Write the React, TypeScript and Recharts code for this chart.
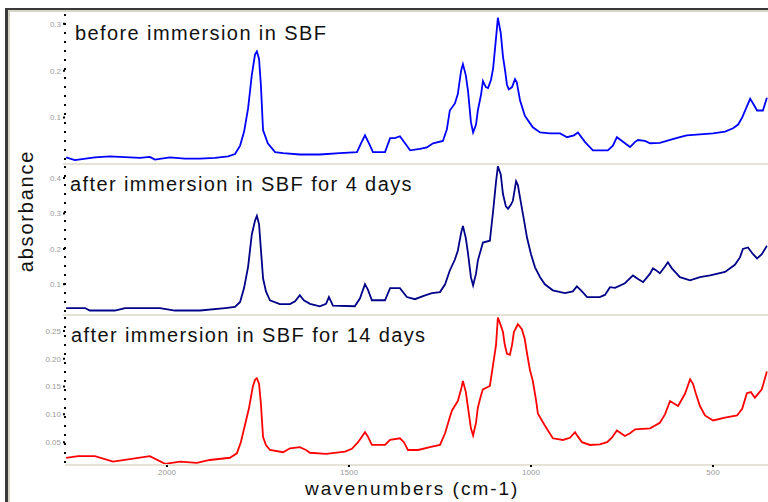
import React from 'react';
import { Line, LineChart, XAxis, YAxis } from 'recharts';

// wavenumbers (cm-1) and absorbance
const wnBefore = [2277, 2253, 2198, 2157, 2074, 2047, 2033, 1992, 1951, 1909, 1868, 1832, 1813, 1799, 1788, 1777, 1767, 1758, 1753, 1747, 1742, 1736, 1723, 1703, 1681, 1635, 1580, 1525, 1478, 1467, 1456, 1445, 1434, 1401, 1387, 1374, 1360, 1346, 1332, 1305, 1286, 1269, 1242, 1231, 1223, 1209, 1201, 1192, 1187, 1179, 1173, 1165, 1159, 1151, 1146, 1137, 1132, 1124, 1118, 1110, 1104, 1096, 1091, 1083, 1077, 1072, 1066, 1061, 1052, 1044, 1039, 1030, 1017, 1003, 995, 975, 948, 920, 901, 882, 871, 852, 830, 789, 775, 764, 750, 728, 714, 706, 687, 673, 646, 618, 591, 572, 536, 500, 467, 445, 431, 420, 409, 398, 390, 379, 363, 352];
const before = [0.015, 0.009, 0.015, 0.017, 0.014, 0.016, 0.01, 0.015, 0.012, 0.012, 0.014, 0.017, 0.022, 0.04, 0.07, 0.12, 0.19, 0.235, 0.241, 0.225, 0.17, 0.073, 0.045, 0.026, 0.024, 0.021, 0.021, 0.024, 0.026, 0.045, 0.062, 0.045, 0.026, 0.026, 0.056, 0.056, 0.06, 0.045, 0.03, 0.033, 0.036, 0.045, 0.05, 0.075, 0.115, 0.13, 0.15, 0.2, 0.214, 0.19, 0.157, 0.09, 0.068, 0.085, 0.115, 0.15, 0.178, 0.165, 0.163, 0.18, 0.205, 0.27, 0.313, 0.28, 0.23, 0.205, 0.17, 0.16, 0.165, 0.182, 0.175, 0.136, 0.104, 0.088, 0.079, 0.068, 0.066, 0.066, 0.058, 0.062, 0.068, 0.048, 0.03, 0.03, 0.04, 0.058, 0.05, 0.037, 0.048, 0.052, 0.05, 0.045, 0.046, 0.052, 0.058, 0.062, 0.064, 0.066, 0.07, 0.077, 0.085, 0.1, 0.12, 0.14, 0.13, 0.115, 0.115, 0.142];

const wnDay4 = [2277, 2225, 2212, 2143, 2115, 2019, 1978, 1951, 1909, 1840, 1813, 1799, 1788, 1777, 1767, 1758, 1753, 1747, 1742, 1736, 1728, 1717, 1690, 1662, 1648, 1635, 1624, 1607, 1580, 1563, 1555, 1544, 1484, 1470, 1456, 1448, 1437, 1401, 1387, 1360, 1341, 1319, 1291, 1272, 1250, 1236, 1223, 1209, 1201, 1192, 1187, 1179, 1173, 1165, 1159, 1151, 1146, 1137, 1132, 1113, 1104, 1096, 1091, 1083, 1077, 1069, 1063, 1055, 1050, 1041, 1036, 1030, 1019, 1011, 1000, 989, 975, 962, 940, 907, 885, 874, 860, 846, 811, 797, 783, 769, 742, 720, 706, 692, 673, 665, 657, 646, 632, 624, 613, 591, 563, 536, 508, 467, 440, 426, 418, 404, 390, 379, 366, 352];
const day4 = [0.033, 0.033, 0.026, 0.026, 0.033, 0.033, 0.026, 0.026, 0.026, 0.033, 0.036, 0.05, 0.09, 0.15, 0.24, 0.28, 0.293, 0.27, 0.2, 0.117, 0.08, 0.055, 0.044, 0.044, 0.052, 0.069, 0.055, 0.045, 0.038, 0.045, 0.064, 0.04, 0.038, 0.06, 0.1, 0.085, 0.055, 0.055, 0.089, 0.089, 0.064, 0.058, 0.069, 0.075, 0.078, 0.1, 0.139, 0.17, 0.195, 0.245, 0.265, 0.23, 0.187, 0.12, 0.097, 0.13, 0.167, 0.2, 0.218, 0.223, 0.307, 0.39, 0.433, 0.41, 0.355, 0.32, 0.313, 0.325, 0.335, 0.391, 0.38, 0.344, 0.28, 0.232, 0.185, 0.148, 0.12, 0.1, 0.083, 0.075, 0.08, 0.094, 0.08, 0.064, 0.064, 0.07, 0.092, 0.09, 0.103, 0.125, 0.115, 0.106, 0.13, 0.145, 0.14, 0.131, 0.15, 0.162, 0.145, 0.12, 0.111, 0.12, 0.125, 0.135, 0.155, 0.176, 0.2, 0.204, 0.185, 0.173, 0.185, 0.209];

const wnDay14 = [2277, 2244, 2198, 2148, 2047, 2005, 1964, 1918, 1882, 1827, 1808, 1797, 1786, 1775, 1764, 1758, 1753, 1747, 1742, 1736, 1728, 1717, 1681, 1662, 1635, 1618, 1607, 1563, 1511, 1492, 1475, 1456, 1448, 1437, 1401, 1387, 1360, 1349, 1338, 1310, 1278, 1250, 1236, 1223, 1217, 1201, 1192, 1187, 1179, 1173, 1165, 1159, 1151, 1146, 1137, 1132, 1113, 1104, 1096, 1091, 1083, 1077, 1072, 1066, 1058, 1052, 1047, 1036, 1025, 1017, 1011, 1003, 995, 986, 981, 962, 940, 912, 893, 879, 871, 860, 838, 811, 791, 778, 764, 742, 728, 714, 673, 646, 632, 618, 604, 596, 577, 563, 555, 547, 536, 522, 500, 467, 434, 420, 407, 396, 385, 366, 352];
const day14 = [0.022, 0.025, 0.025, 0.015, 0.025, 0.011, 0.015, 0.013, 0.018, 0.022, 0.03, 0.05, 0.08, 0.11, 0.15, 0.162, 0.165, 0.155, 0.12, 0.059, 0.045, 0.036, 0.032, 0.039, 0.041, 0.036, 0.031, 0.029, 0.033, 0.038, 0.05, 0.068, 0.06, 0.045, 0.045, 0.054, 0.057, 0.05, 0.036, 0.036, 0.041, 0.045, 0.066, 0.095, 0.107, 0.124, 0.145, 0.16, 0.14, 0.112, 0.075, 0.062, 0.085, 0.112, 0.135, 0.145, 0.151, 0.19, 0.225, 0.274, 0.26, 0.248, 0.225, 0.209, 0.207, 0.225, 0.248, 0.262, 0.253, 0.235, 0.21, 0.18, 0.16, 0.125, 0.101, 0.08, 0.057, 0.054, 0.058, 0.068, 0.06, 0.05, 0.045, 0.046, 0.05, 0.058, 0.071, 0.061, 0.066, 0.073, 0.075, 0.085, 0.1, 0.124, 0.118, 0.115, 0.137, 0.163, 0.155, 0.137, 0.115, 0.098, 0.089, 0.094, 0.098, 0.11, 0.138, 0.14, 0.13, 0.145, 0.177];

const xTicks = [2000, 1500, 1000, 500];
const yTicksBefore = [0.1, 0.2, 0.3];
const yTicksDay4 = [0.1, 0.2, 0.3, 0.4];
const yTicksDay14 = [0.05, 0.1, 0.15, 0.2, 0.25];

const titles = [
  'before immersion in SBF',
  'after immersion in SBF for 4 days',
  'after immersion in SBF for 14 days',
];

const toRows = (wn: number[], vals: number[]) => wn.map((w, i) => ({ w, v: vals[i] }));

const tickFont = { fontSize: 8, fill: '#9a9a9a', fontFamily: 'Liberation Sans' };
const xDomain: [number, number] = [349, 2280];
const beige = '#e4e3d6';

const textStyle: React.CSSProperties = {
  position: 'absolute',
  fontFamily: '"Liberation Sans", Arial, sans-serif',
  color: '#111',
  whiteSpace: 'nowrap',
  lineHeight: '20px',
};

interface PanelProps {
  rows: { w: number; v: number }[];
  top: number;
  height: number;
  domain: [number, number];
  ticks: number[];
  digits: number;
  color: string;
  showX?: boolean;
}

const Panel = ({ rows, top, height, domain, ticks, digits, color, showX }: PanelProps) => (
  <div style={{ position: 'absolute', left: 0, top }}>
    <LineChart width={768} height={height} data={rows} margin={{ top: 0, right: 0, bottom: 0, left: 0 }}>
      <XAxis
        type="number"
        dataKey="w"
        domain={xDomain}
        reversed
        allowDataOverflow
        hide={!showX}
        ticks={xTicks}
        height={20}
        tick={tickFont}
        tickSize={2}
        tickLine={{ stroke: '#000', strokeWidth: 2 }}
        axisLine={{ stroke: beige, strokeWidth: 2 }}
      />
      <YAxis
        type="number"
        domain={domain}
        allowDataOverflow
        ticks={ticks}
        width={65}
        tick={tickFont}
        tickSize={2}
        tickFormatter={(t: number) => t.toFixed(digits)}
        tickLine={{ stroke: '#000', strokeWidth: 2 }}
        axisLine={{ stroke: '#000', strokeWidth: 2, strokeDasharray: '2 7' }}
      />
      <Line
        type="linear"
        dataKey="v"
        stroke={color}
        strokeWidth={1.8}
        dot={false}
        isAnimationActive={false}
      />
    </LineChart>
  </div>
);

export default function App() {
  return (
    <div style={{ position: 'relative', width: 768, height: 502, background: '#fff', overflow: 'hidden' }}>
      <style>{'body{margin:0}'}</style>
      {/* window frame */}
      <div style={{ position: 'absolute', left: 5, top: 8, width: 763, height: 2, background: '#3a3a3a' }} />
      <div style={{ position: 'absolute', left: 8, top: 10, width: 760, height: 2, background: '#d6d5c6' }} />
      <div style={{ position: 'absolute', left: 5, top: 8, width: 3, height: 494, background: '#3a3a3a' }} />
      <div style={{ position: 'absolute', left: 8, top: 10, width: 2, height: 492, background: '#d6d5c6' }} />
      {/* panel separators */}
      <div style={{ position: 'absolute', left: 63, top: 163, width: 705, height: 2, background: beige }} />
      <div style={{ position: 'absolute', left: 63, top: 314, width: 705, height: 2, background: beige }} />

      <Panel rows={toRows(wnBefore, before)} top={14} height={148} domain={[0.005, 0.321]} ticks={yTicksBefore} digits={1} color="#0000ff" />
      <Panel rows={toRows(wnDay4, day4)} top={166} height={147} domain={[0.019, 0.434]} ticks={yTicksDay4} digits={1} color="#000088" />
      <Panel rows={toRows(wnDay14, day14)} top={317} height={168} domain={[0.009, 0.275]} ticks={yTicksDay14} digits={2} color="#ff0000" showX />

      <div style={{ ...textStyle, left: 75, top: 23, fontSize: 20, letterSpacing: 1.4 }}>{titles[0]}</div>
      <div style={{ ...textStyle, left: 70, top: 174, fontSize: 20, letterSpacing: 1.4 }}>{titles[1]}</div>
      <div style={{ ...textStyle, left: 71, top: 325, fontSize: 20, letterSpacing: 1.4 }}>{titles[2]}</div>

      <div
        style={{
          ...textStyle,
          left: 305,
          top: 479,
          fontSize: 19,
          letterSpacing: 2,
        }}
      >
        wavenumbers (cm-1)
      </div>
      <div
        style={{
          ...textStyle,
          left: 26 - 80,
          top: 211 - 10,
          width: 160,
          textAlign: 'center',
          fontSize: 20,
          letterSpacing: 1.8,
          transform: 'rotate(-90deg)',
        }}
      >
        absorbance
      </div>
    </div>
  );
}
